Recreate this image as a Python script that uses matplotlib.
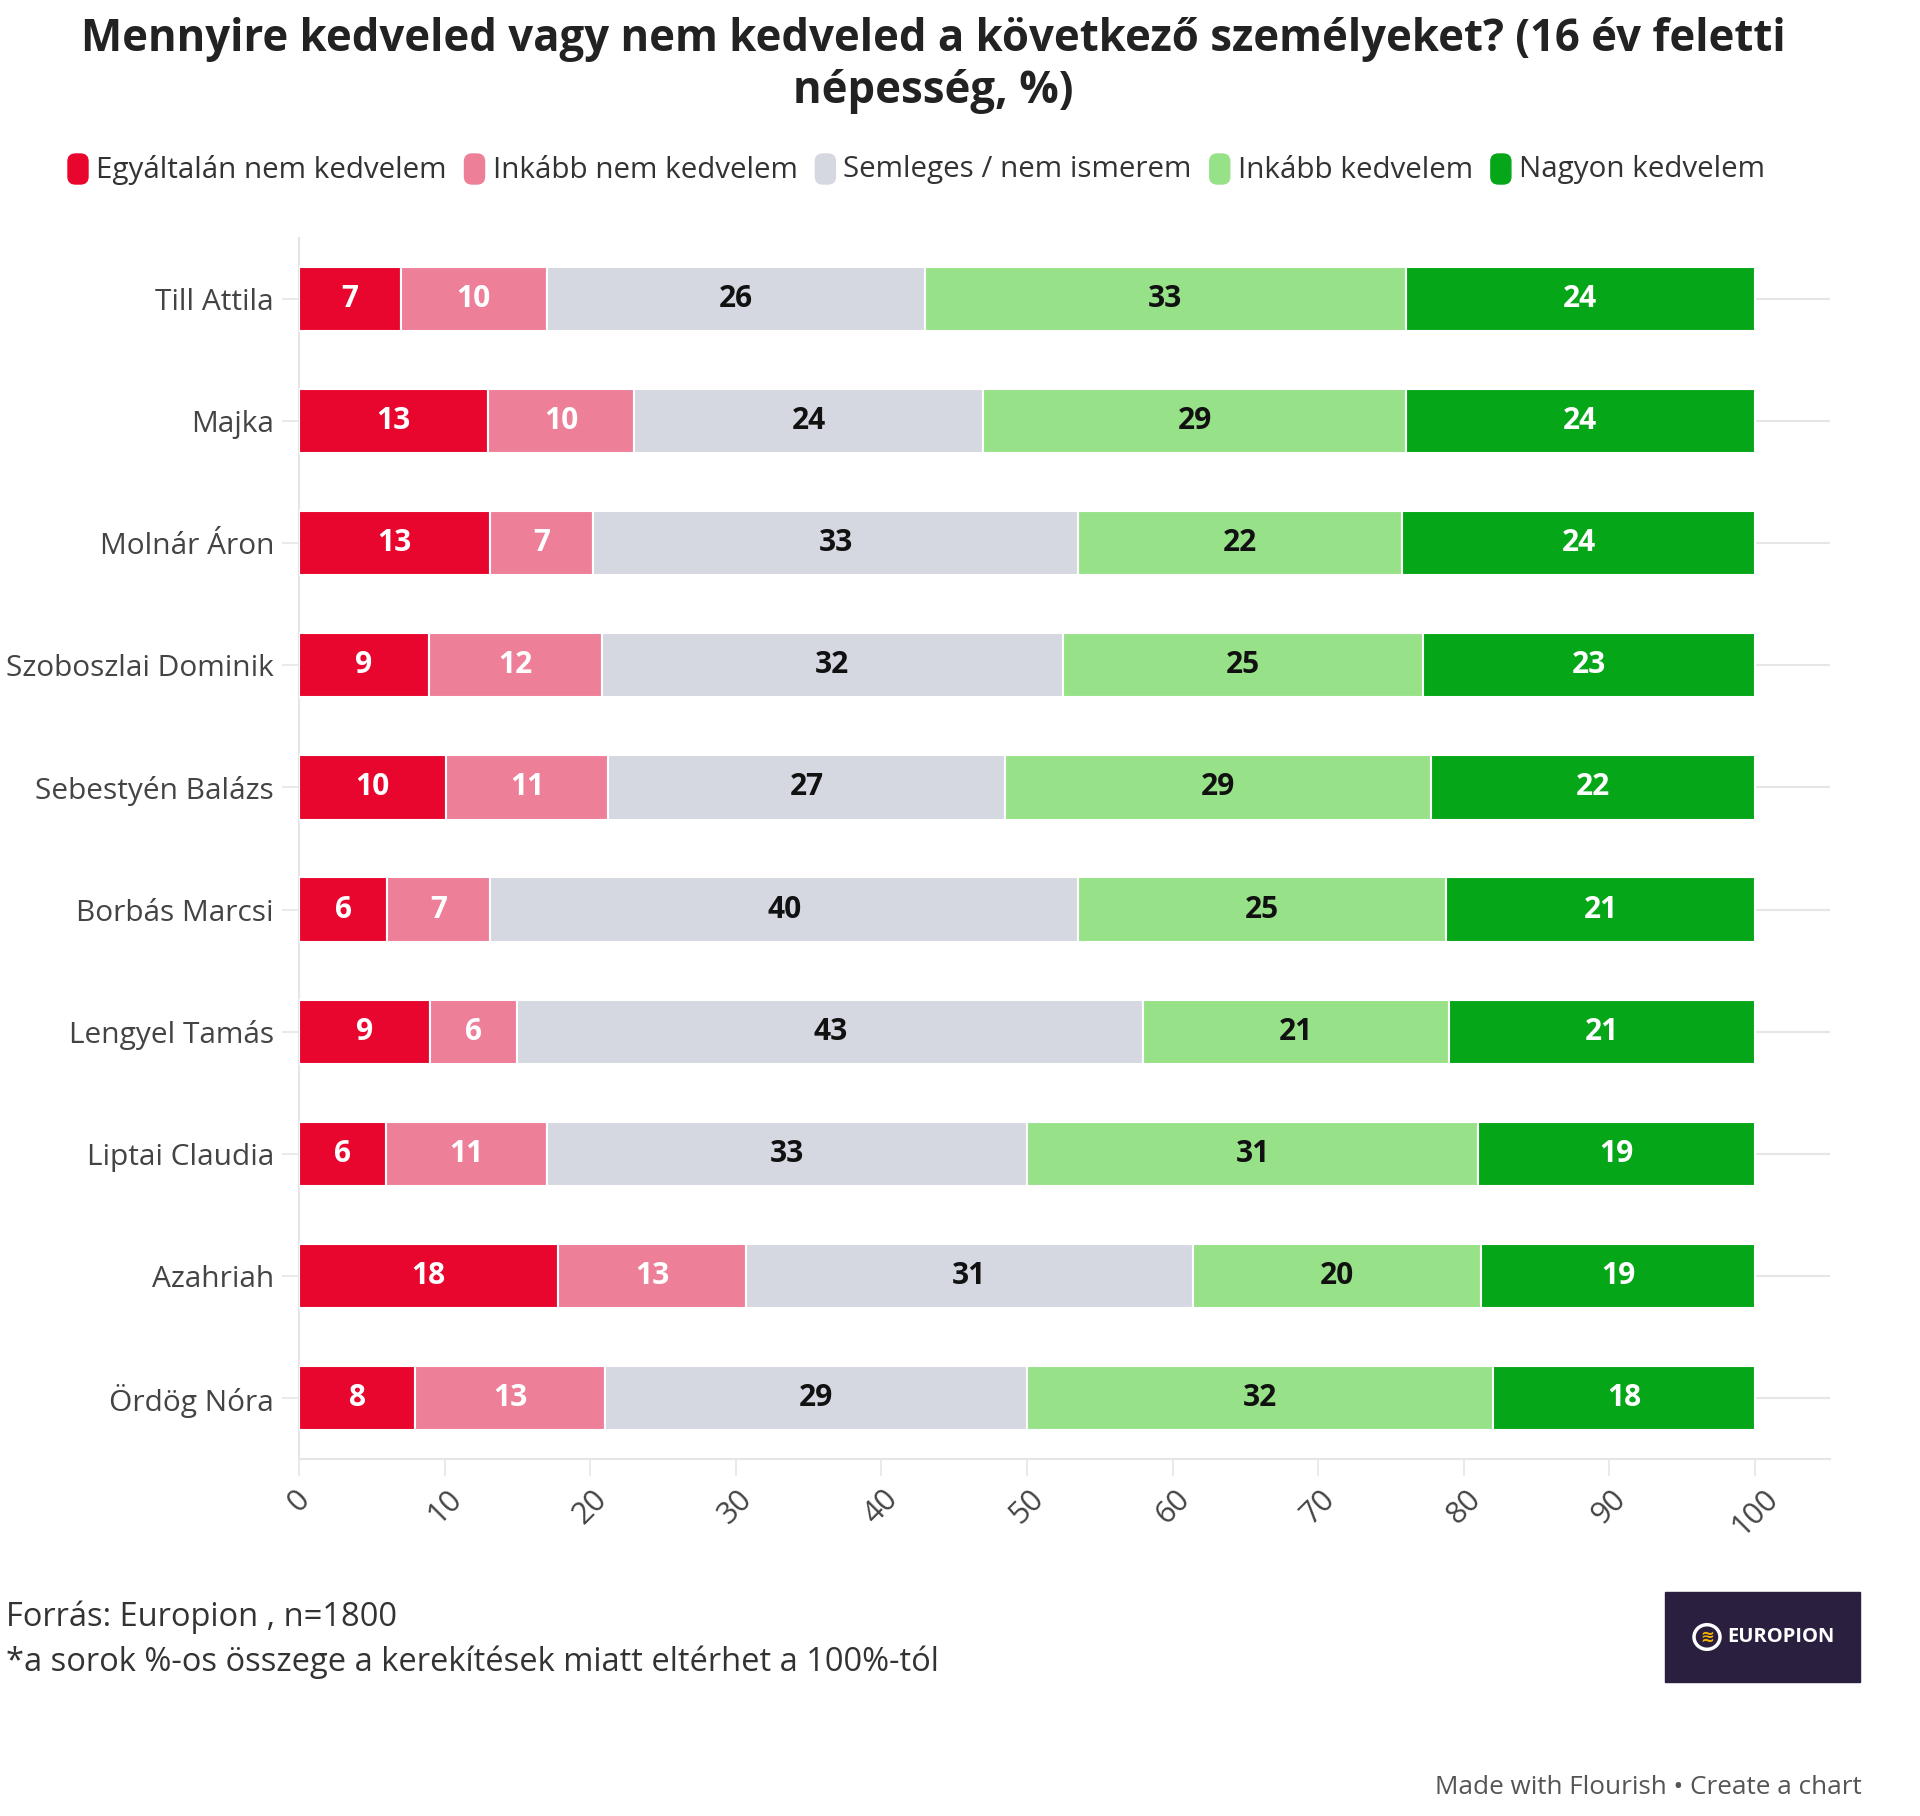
import numpy as np
import matplotlib
matplotlib.use("Agg")
import matplotlib.pyplot as plt
from matplotlib.patches import Rectangle, Circle, FancyBboxPatch

plt.rcParams['font.family'] = ['Open Sans', 'DejaVu Sans']

names = ["Till Attila", "Majka", "Molnár Áron", "Szoboszlai Dominik",
         "Sebestyén Balázs", "Borbás Marcsi", "Lengyel Tamás",
         "Liptai Claudia", "Azahriah", "Ördög Nóra"]
series = ["Egyáltalán nem kedvelem", "Inkább nem kedvelem",
          "Semleges / nem ismerem", "Inkább kedvelem", "Nagyon kedvelem"]
colors = ["#e8062f", "#ee7f99", "#d5d8e0", "#97e288", "#06a619"]
label_colors = ["white", "white", "#111111", "#111111", "white"]

nem_kedvelem = [7, 13, 13, 9, 10, 6, 9, 6, 18, 8]
inkabb_nem = [10, 10, 7, 12, 11, 7, 6, 11, 13, 13]
semleges = [26, 24, 33, 32, 27, 40, 43, 33, 31, 29]
inkabb_igen = [33, 29, 22, 25, 29, 25, 21, 31, 20, 32]
nagyon = [24, 24, 24, 23, 22, 21, 21, 19, 19, 18]

ticks = [0, 10, 20, 30, 40, 50, 60, 70, 80, 90, 100]

data = np.array([nem_kedvelem, inkabb_nem, semleges, inkabb_igen, nagyon], dtype=float)
# bars are stacked to 100% in the original
widths = data / data.sum(axis=0) * 100

fig = plt.figure(figsize=(19.2, 18.16), dpi=100)
ax = fig.add_axes([299/1920, 1 - 1459/1816, 1531/1920, (1459 - 238)/1816])

y = np.arange(len(names))
left = np.zeros(len(names))
for i in range(len(series)):
    ax.barh(y, widths[i], left=left, height=0.525, color=colors[i],
            edgecolor="white", linewidth=1.5, zorder=3)
    for j in range(len(names)):
        ax.text(left[j] + widths[i][j] / 2, y[j], str(int(data[i][j])),
                ha="center", va="center", fontsize=21.5, fontweight="bold",
                color=label_colors[i], zorder=4)
    left += widths[i]

ax.set_xlim(0, 105.15)
ax.set_ylim(len(names) - 0.5, -0.5)
ax.set_yticks(y)
ax.set_yticklabels(names, fontsize=21.5, color="#444444")
ax.set_xticks(ticks)
ax.set_xticklabels([str(t) for t in ticks], fontsize=22, color="#444444",
                   rotation=45, ha="center", va="top")
ax.tick_params(axis="x", length=12, width=1.2, color="#e6e6e6", pad=6)
ax.tick_params(axis="y", length=12, width=1.2, color="#e6e6e6", pad=6)
ax.grid(axis="y", color="#e6e6e6", linewidth=1.5, zorder=0)
for s in ["top", "right"]:
    ax.spines[s].set_visible(False)
for s in ["left", "bottom"]:
    ax.spines[s].set_color("#e6e6e6")
    ax.spines[s].set_linewidth(1.5)

fig.text(933/1920, 1 - 39/1816, "Mennyire kedveled vagy nem kedveled a következő személyeket? (16 év feletti",
         ha="center", va="center", fontsize=31.5, fontweight="bold", color="#222222")
fig.text(933/1920, 1 - 92/1816, "népesség, %)", ha="center", va="center",
         fontsize=31.5, fontweight="bold", color="#222222")

# legend row
x = 68
for i, name in enumerate(series):
    fig.patches.append(FancyBboxPatch((x / 1920, 1 - 184 / 1816), 20 / 1920, 30 / 1816,
                                      boxstyle="round,pad=0,rounding_size=0.004",
                                      transform=fig.transFigure, color=colors[i]))
    t = fig.text((x + 28) / 1920, 1 - 170 / 1816, name, ha="left", va="center",
                 fontsize=21.3, color="#333333")
    fig.canvas.draw()
    bb = t.get_window_extent()
    x = bb.x1 + 18

fig.text(6 / 1920, 1 - 1617 / 1816, "Forrás: Europion , n=1800", ha="left",
         va="center", fontsize=23.5, color="#333333")
fig.text(6 / 1920, 1 - 1662 / 1816, "*a sorok %-os összege a kerekítések miatt eltérhet a 100%-tól",
         ha="left", va="center", fontsize=23.5, color="#333333")
fig.text(1862 / 1920, 1 - 1787 / 1816, "Made with Flourish • Create a chart",
         ha="right", va="center", fontsize=18.8, color="#555555")

# Europion logo box
fig.patches.append(Rectangle((1665 / 1920, 1 - 1682 / 1816), 195 / 1920, 90 / 1816,
                             transform=fig.transFigure, color="#2b1f3f"))
fig.patches.append(Circle((1707 / 1920, 1 - 1637 / 1816), 13 / 1920,
                          transform=fig.transFigure, facecolor="none",
                          edgecolor="white", linewidth=2.5))
fig.text(1707 / 1920, 1 - 1637 / 1816, "≋", ha="center", va="center",
         fontsize=12, color="#f5b400", fontweight="bold", family="DejaVu Sans")
fig.text(1727 / 1920, 1 - 1637 / 1816, "EUROPION", ha="left", va="center",
         fontsize=14.5, color="white", fontweight="bold")

fig.savefig("out.png", dpi=100, facecolor="white")
